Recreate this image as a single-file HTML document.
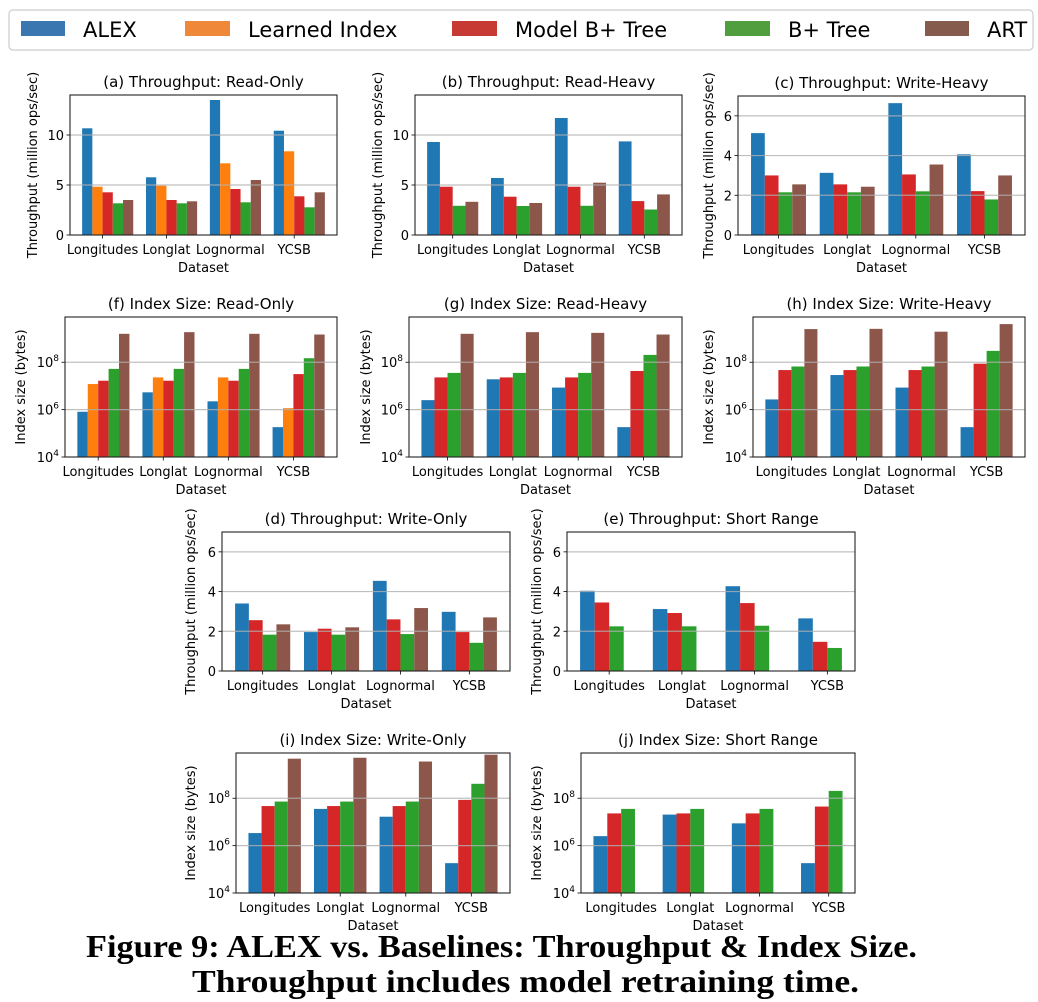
<!DOCTYPE html>
<html><head><meta charset="utf-8"><style>
html,body{margin:0;padding:0;background:#fff;width:1038px;height:1002px;overflow:hidden}
svg{display:block}
text{font-family:"DejaVu Sans","Liberation Sans",sans-serif;fill:#000}
.cap{font-family:"Liberation Serif",serif;font-weight:bold;font-size:32px}
</style></head><body>
<svg id="fig" width="1038" height="1002" viewBox="0 0 1038 1002" xmlns="http://www.w3.org/2000/svg">
<g>
<rect x="9" y="10" width="1024" height="40" rx="4" fill="#fff" stroke="#cccccc" stroke-width="1.2"/>
<rect x="21" y="21" width="44" height="15" fill="#3a76b0"/>
<text x="83" y="37" font-size="21">ALEX</text>
<rect x="185" y="21" width="45" height="15" fill="#f0883a"/>
<text x="248" y="37" font-size="21">Learned Index</text>
<rect x="452" y="21" width="45" height="15" fill="#c73a34"/>
<text x="515" y="37" font-size="21">Model B+ Tree</text>
<rect x="725" y="21" width="45" height="15" fill="#519e3e"/>
<text x="788" y="37" font-size="21">B+ Tree</text>
<rect x="925" y="21" width="44" height="15" fill="#845b4d"/>
<text x="987" y="37" font-size="21">ART</text>
</g>
<text class="cap" x="86" y="957" textLength="831" lengthAdjust="spacingAndGlyphs">Figure 9: ALEX vs. Baselines: Throughput &amp; Index Size.</text>
<text class="cap" x="192" y="992" textLength="667" lengthAdjust="spacingAndGlyphs">Throughput includes model retraining time.</text>
</svg>
<script>
const categories = ["Longitudes","Longlat","Lognormal","YCSB"];
// values per series, per category (throughput in M ops/sec, index size as log10 bytes)
const aAlex=[10.67,5.77,13.5,10.43], aLearned=[4.83,4.93,7.17,8.37], aModelB=[4.27,3.5,4.6,3.87], aBTree=[3.17,3.17,3.27,2.77], aArt=[3.5,3.37,5.5,4.27];
const bAlex=[9.3,5.7,11.7,9.36], bModelB=[4.83,3.83,4.83,3.39], bBTree=[2.92,2.9,2.92,2.55], bArt=[3.32,3.2,5.23,4.06];
const cAlex=[5.13,3.13,6.64,4.06], cModelB=[3.0,2.55,3.05,2.21], cBTree=[2.15,2.15,2.2,1.79], cArt=[2.55,2.43,3.55,3.0];
const dAlex=[3.4,1.96,4.54,2.98], dModelB=[2.56,2.13,2.6,1.96], dBTree=[1.83,1.83,1.86,1.42], dArt=[2.35,2.2,3.17,2.7];
const eAlex=[4.04,3.12,4.27,2.65], eModelB=[3.45,2.92,3.42,1.47], eBTree=[2.25,2.25,2.28,1.16];
const fAlex=[5.91,6.73,6.35,5.26], fLearned=[7.08,7.36,7.36,6.06], fModelB=[7.22,7.22,7.22,7.5], fBTree=[7.72,7.72,7.72,8.17], fArt=[9.2,9.27,9.2,9.17];
const gAlex=[6.4,7.28,6.93,5.26], gModelB=[7.36,7.36,7.36,7.63], gBTree=[7.55,7.55,7.55,8.31], gArt=[9.2,9.27,9.24,9.17];
const hAlex=[6.43,7.46,6.93,5.26], hModelB=[7.67,7.67,7.67,7.94], hBTree=[7.82,7.82,7.82,8.48], hArt=[9.4,9.41,9.29,9.61];
const iAlex=[6.53,7.55,7.22,5.26], iModelB=[7.67,7.67,7.67,7.93], iBTree=[7.86,7.86,7.86,8.61], iArt=[9.67,9.71,9.55,9.84];
const jAlex=[6.4,7.31,6.94,5.26], jModelB=[7.36,7.36,7.36,7.65], jBTree=[7.55,7.55,7.55,8.31];
const linTicks14=[0,5,10], linTicks7=[0,2,4,6], logTicks=[4,6,8];

const C={alex:"#1f77b4",learned:"#ff7f0e",modelb:"#d62728",btree:"#2ca02c",art:"#8c564b"};
const NS="http://www.w3.org/2000/svg";
const svg=document.getElementById("fig");
function mk(tag,attrs,parent){const e=document.createElementNS(NS,tag);for(const k in attrs)e.setAttribute(k,attrs[k]);(parent||svg).appendChild(e);return e;}

const panels=[
 {id:"a",title:"(a) Throughput: Read-Only",x0:70,x1:337,y0:95,y1:235,lo:0,hi:14,log:false,ticks:linTicks14,ylab:"Throughput (million ops/sec)",ylx:32,
  series:[["alex",aAlex],["learned",aLearned],["modelb",aModelB],["btree",aBTree],["art",aArt]]},
 {id:"b",title:"(b) Throughput: Read-Heavy",x0:415,x1:682,y0:95,y1:235,lo:0,hi:14,log:false,ticks:linTicks14,ylab:"Throughput (million ops/sec)",ylx:377,
  series:[["alex",bAlex],["modelb",bModelB],["btree",bBTree],["art",bArt]]},
 {id:"c",title:"(c) Throughput: Write-Heavy",x0:738,x1:1025,y0:96,y1:235,lo:0,hi:7,log:false,ticks:linTicks7,ylab:"Throughput (million ops/sec)",ylx:708,
  series:[["alex",cAlex],["modelb",cModelB],["btree",cBTree],["art",cArt]]},
 {id:"f",title:"(f) Index Size: Read-Only",x0:65,x1:337,y0:317,y1:457,lo:4,hi:9.91,log:true,ticks:logTicks,ylab:"Index size (bytes)",ylx:20,
  series:[["alex",fAlex],["learned",fLearned],["modelb",fModelB],["btree",fBTree],["art",fArt]]},
 {id:"g",title:"(g) Index Size: Read-Heavy",x0:409,x1:682,y0:317,y1:457,lo:4,hi:9.91,log:true,ticks:logTicks,ylab:"Index size (bytes)",ylx:365,
  series:[["alex",gAlex],["modelb",gModelB],["btree",gBTree],["art",gArt]]},
 {id:"h",title:"(h) Index Size: Write-Heavy",x0:753,x1:1025,y0:317,y1:457,lo:4,hi:9.91,log:true,ticks:logTicks,ylab:"Index size (bytes)",ylx:708,
  series:[["alex",hAlex],["modelb",hModelB],["btree",hBTree],["art",hArt]]},
 {id:"d",title:"(d) Throughput: Write-Only",x0:222,x1:510,y0:532,y1:671,lo:0,hi:7,log:false,ticks:linTicks7,ylab:"Throughput (million ops/sec)",ylx:190,
  series:[["alex",dAlex],["modelb",dModelB],["btree",dBTree],["art",dArt]]},
 {id:"e",title:"(e) Throughput: Short Range",x0:567,x1:855,y0:532,y1:671,lo:0,hi:7,log:false,ticks:linTicks7,ylab:"Throughput (million ops/sec)",ylx:536,
  series:[["alex",eAlex],["modelb",eModelB],["btree",eBTree]]},
 {id:"i",title:"(i) Index Size: Write-Only",x0:236,x1:510,y0:753,y1:893,lo:4,hi:9.91,log:true,ticks:logTicks,ylab:"Index size (bytes)",ylx:190,
  series:[["alex",iAlex],["modelb",iModelB],["btree",iBTree],["art",iArt]]},
 {id:"j",title:"(j) Index Size: Short Range",x0:581,x1:855,y0:753,y1:893,lo:4,hi:9.91,log:true,ticks:logTicks,ylab:"Index size (bytes)",ylx:536,
  series:[["alex",jAlex],["modelb",jModelB],["btree",jBTree]]}
];

panels.forEach(p=>{
 const g=mk("g",{});
 
 
 const n=p.series.length;
 const w=(n===5)?0.16:0.2;
 const dLo=-2*w, dHi=3+(n-2)*w;
 const m=0.05*(dHi-dLo);
 const xlo=dLo-m, xhi=dHi+m;
 const X=v=>p.x0+(v-xlo)/(xhi-xlo)*(p.x1-p.x0);
 const Y=v=>p.y1-(v-p.lo)/(p.hi-p.lo)*(p.y1-p.y0);
 p.series.forEach((s,si)=>{
  s[1].forEach((val,ci)=>{
   const xa=X(ci+(si-2)*w), xb=X(ci+(si-1)*w);
   const yt=Y(val);
   const r=mk("rect",{x:xa,y:yt,width:xb-xa,height:p.y1-yt,fill:C[s[0]]},g);
   
   
  });
 });
 p.ticks.forEach(t=>{
  const y=Y(t);
  if(t!==p.lo){
   const gl=mk("line",{x1:p.x0,x2:p.x1,y1:y,y2:y,stroke:"#b0b0b0","stroke-width":1.2,opacity:0.8},g);
   
   
  }
  mk("line",{x1:p.x0-3.5,x2:p.x0,y1:y,y2:y,stroke:"#000","stroke-width":0.8},g);
  const tx=mk("text",{x:p.x0-6,y:y+5,"font-size":13,"text-anchor":"end"},g);
  
  
  if(p.log){
   tx.appendChild(document.createTextNode("10"));
   const sp=mk("tspan",{dy:-6,"font-size":9},tx);sp.textContent=String(t);
  } else tx.textContent=String(t);
 });
 const fr=mk("rect",{x:p.x0,y:p.y0,width:p.x1-p.x0,height:p.y1-p.y0,fill:"none",stroke:"#222","stroke-width":1.1},g);
 
 
 categories.forEach((c,ci)=>{
  const x=X(ci);
  mk("line",{x1:x,x2:x,y1:p.y1,y2:p.y1+3.5,stroke:"#000","stroke-width":0.8},g);
  const t=mk("text",{x:x,y:p.y1+19,"font-size":13,"text-anchor":"middle"},g);
  t.textContent=c;
  
  
 });
 const xl=mk("text",{x:(p.x0+p.x1)/2,y:p.y1+37,"font-size":13,"text-anchor":"middle"},g);
 xl.textContent="Dataset";
 
 
 const tt=mk("text",{x:(p.x0+p.x1)/2,y:p.y0-8,"font-size":15,"text-anchor":"middle"},g);
 tt.textContent=p.title;
 
 
 const cy=(p.y0+p.y1)/2;
 const yl=mk("text",{x:p.ylx,y:cy,"font-size":13,"text-anchor":"middle",transform:"rotate(-90 "+p.ylx+" "+cy+")",dy:5},g);
 yl.textContent=p.ylab;
 
 
});
</script>
</body></html>
